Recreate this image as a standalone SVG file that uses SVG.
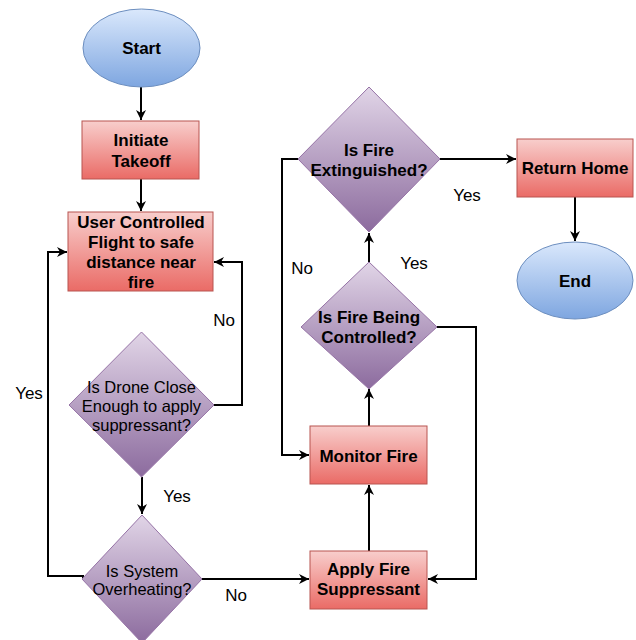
<svg xmlns="http://www.w3.org/2000/svg" width="636" height="640" viewBox="0 0 636 640">
<defs>
<linearGradient id="gBlue" x1="0" y1="0" x2="0" y2="1"><stop offset="0" stop-color="#dae8fc"/><stop offset="1" stop-color="#7ea6e0"/></linearGradient>
<linearGradient id="gRed" x1="0" y1="0" x2="0" y2="1"><stop offset="0" stop-color="#f8cecc"/><stop offset="1" stop-color="#ea6b66"/></linearGradient>
<linearGradient id="gPurple" x1="0" y1="0" x2="0" y2="1"><stop offset="0" stop-color="#e1d5e7"/><stop offset="1" stop-color="#8c6b9e"/></linearGradient>
<marker id="arr" markerWidth="12" markerHeight="12" viewBox="0 0 12 12" refX="11" refY="6" orient="auto" markerUnits="userSpaceOnUse">
<path d="M1,1 L11,6 L1,11 L4,6 z" fill="#000"/>
</marker>
<style>
.ell{fill:url(#gBlue);stroke:#6c8ebf;stroke-width:1}
.box{fill:url(#gRed);stroke:#b85450;stroke-width:1}
.dia{fill:url(#gPurple);stroke:#9673a6;stroke-width:1}
.t{font-family:"Liberation Sans",Arial,sans-serif;font-size:17px;font-weight:bold;fill:#000;text-anchor:middle;dominant-baseline:central}
.tr{font-family:"Liberation Sans",Arial,sans-serif;font-size:16.5px;fill:#000;text-anchor:middle;dominant-baseline:central}
.lbl{font-family:"Liberation Sans",Arial,sans-serif;font-size:17px;fill:#000;text-anchor:middle;dominant-baseline:central}
.c{fill:none;stroke:#000;stroke-width:2;marker-end:url(#arr)}
</style>
</defs>
<g id="connectors">
<path class="c" d="M141,87 V120"/>
<path class="c" d="M141,179 V211"/>
<path class="c" d="M214,405 H242 V262 H214"/>
<path class="c" d="M142,477 V514"/>
<path class="c" d="M83,579 V576 H48 V252 H67"/>
<path class="c" d="M202,579 H309"/>
<path class="c" d="M369,551 V485"/>
<path class="c" d="M369,426 V389"/>
<path class="c" d="M437,327 H476 V579 H428"/>
<path class="c" d="M369,262 V233"/>
<path class="c" d="M298,159 H282 V455 H309"/>
<path class="c" d="M440,159 H516"/>
<path class="c" d="M575,197 V241"/>
<text class="lbl" x="224" y="320">No</text>
<text class="lbl" x="29" y="393">Yes</text>
<text class="lbl" x="177" y="496">Yes</text>
<text class="lbl" x="236" y="595">No</text>
<text class="lbl" x="302" y="268">No</text>
<text class="lbl" x="414" y="263">Yes</text>
<text class="lbl" x="467" y="195">Yes</text>
</g>
<g id="start"><ellipse class="ell" cx="141.5" cy="48" rx="58.5" ry="39"/><text class="t" x="141.5" y="48">Start</text></g>
<g id="takeoff"><rect class="box" x="82" y="121" width="117" height="58"/><text class="t" x="141" y="140">Initiate</text><text class="t" x="141" y="161">Takeoff</text></g>
<g id="flight"><rect class="box" x="68" y="212" width="145" height="79"/><text class="t" x="141" y="222">User Controlled</text><text class="t" x="141" y="242">Flight to safe</text><text class="t" x="141" y="262">distance near</text><text class="t" x="141" y="282">fire</text></g>
<g id="close"><polygon class="dia" points="141.5,332 214,405 141.5,477 69,405"/><text class="tr" x="141.5" y="387">Is Drone Close</text><text class="tr" x="141.5" y="406">Enough to apply</text><text class="tr" x="141.5" y="425">suppressant?</text></g>
<g id="overheat"><polygon class="dia" points="142,515 202,579 142,643 82,579"/><text class="tr" x="142" y="571">Is System</text><text class="tr" x="142" y="589">Overheating?</text></g>
<g id="apply"><rect class="box" x="310" y="551" width="117" height="58"/><text class="t" x="368.5" y="569">Apply Fire</text><text class="t" x="368.5" y="589">Suppressant</text></g>
<g id="monitor"><rect class="box" x="310" y="426" width="117" height="58"/><text class="t" x="368.5" y="456">Monitor Fire</text></g>
<g id="controlled"><polygon class="dia" points="369,262 437,327 369,389 301,327"/><text class="t" x="369" y="317">Is Fire Being</text><text class="t" x="369" y="337">Controlled?</text></g>
<g id="extinguished"><polygon class="dia" points="369,87 440,159 369,232 298,159"/><text class="t" x="369" y="150">Is Fire</text><text class="t" x="369" y="170">Extinguished?</text></g>
<g id="returnhome"><rect class="box" x="517" y="139" width="116" height="58"/><text class="t" x="575" y="168">Return Home</text></g>
<g id="end"><ellipse class="ell" cx="575" cy="280.5" rx="58" ry="38.5"/><text class="t" x="575" y="281">End</text></g>
</svg>
